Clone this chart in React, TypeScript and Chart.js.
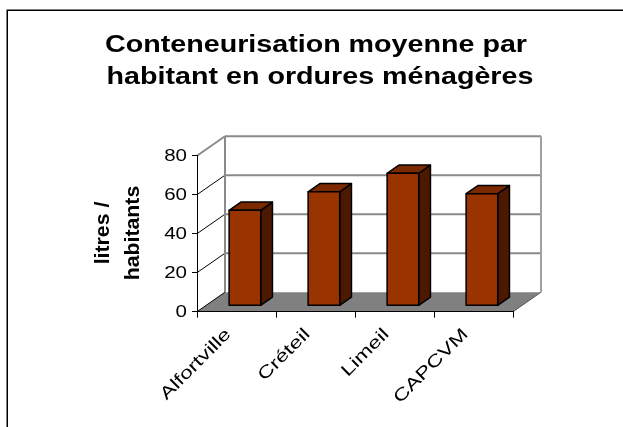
import React, { useEffect, useRef } from 'react';
import { Chart, registerables } from 'chart.js';

Chart.register(...registerables);

const titleLines = ['Conteneurisation moyenne par', 'habitant en ordures ménagères'];
const axisTitleLines = ['litres /', 'habitants'];
const categories = ['Alfortville', 'Créteil', 'Limeil', 'CAPCVM'];
const values = [49, 58.5, 68, 57.5];
const yMin = 0;
const yMax = 80;
const yStep = 20;

const FONT = '"Liberation Sans", Arial, sans-serif';
const STRETCH = 1.26;
const DEPTH_X = 28;
const DEPTH_Y = -19.5;
const BAR_START = 0.3;
const BAR_DEPTH = 0.42;

const COLORS = {
  front: '#993300',
  top: '#7a2900',
  side: '#4c1900',
  floor: '#808080',
  wall: '#8a8a8a',
};

function drawText(
  ctx: CanvasRenderingContext2D,
  text: string,
  x: number,
  y: number,
  rot: number,
  sx: number,
  sy: number,
  align: CanvasTextAlign,
  baseline: CanvasTextBaseline
) {
  ctx.save();
  ctx.translate(x, y);
  ctx.rotate(rot);
  ctx.scale(sx, sy);
  ctx.textAlign = align;
  ctx.textBaseline = baseline;
  ctx.fillText(text, 0, 0);
  ctx.restore();
}

const threeD = {
  id: 'threeD',
  beforeDraw(chart: any) {
    const ctx = chart.ctx as CanvasRenderingContext2D;
    const { left: L, right: R, top: T, bottom: B } = chart.chartArea;
    const ys = chart.scales.y;
    ctx.save();
    ctx.fillStyle = '#fff';
    ctx.fillRect(0, 0, chart.width, chart.height);
    ctx.strokeStyle = '#000';
    ctx.lineWidth = 1.5;
    ctx.strokeRect(7.25, 10.25, 800, 600);

    // floor
    ctx.beginPath();
    ctx.moveTo(L, B);
    ctx.lineTo(R, B);
    ctx.lineTo(R + DEPTH_X, B + DEPTH_Y);
    ctx.lineTo(L + DEPTH_X, B + DEPTH_Y);
    ctx.closePath();
    ctx.fillStyle = COLORS.floor;
    ctx.fill();
    ctx.strokeStyle = '#555';
    ctx.lineWidth = 1;
    ctx.beginPath();
    ctx.moveTo(R, B);
    ctx.lineTo(R + DEPTH_X, B + DEPTH_Y);
    ctx.stroke();

    for (let v = yMin; v <= yMax; v += yStep) {
      const y = ys.getPixelForValue(v);
      if (v > yMin) {
        ctx.strokeStyle = COLORS.wall;
        ctx.lineWidth = 2;
        ctx.beginPath();
        ctx.moveTo(L + DEPTH_X, y + DEPTH_Y);
        ctx.lineTo(R + DEPTH_X, y + DEPTH_Y);
        ctx.stroke();
      }
      ctx.strokeStyle = v === yMax ? COLORS.wall : '#000';
      ctx.lineWidth = v === yMax ? 2 : 1;
      ctx.beginPath();
      ctx.moveTo(L, y);
      ctx.lineTo(L + DEPTH_X, y + DEPTH_Y);
      ctx.stroke();
    }
    ctx.strokeStyle = COLORS.wall;
    ctx.lineWidth = 2;
    ctx.beginPath();
    ctx.moveTo(L + DEPTH_X, T + DEPTH_Y);
    ctx.lineTo(L + DEPTH_X, B + DEPTH_Y);
    ctx.stroke();
    ctx.strokeStyle = '#a0a0a0';
    ctx.beginPath();
    ctx.moveTo(R + DEPTH_X, T + DEPTH_Y);
    ctx.lineTo(R + DEPTH_X, B + DEPTH_Y);
    ctx.stroke();
    ctx.restore();
  },
  afterDatasetsDraw(chart: any) {
    const ctx = chart.ctx as CanvasRenderingContext2D;
    const meta = chart.getDatasetMeta(0);
    const ox = DEPTH_X * BAR_START;
    const oy = DEPTH_Y * BAR_START;
    const dx = DEPTH_X * BAR_DEPTH;
    const dy = DEPTH_Y * BAR_DEPTH;
    ctx.save();
    ctx.lineWidth = 1.5;
    ctx.strokeStyle = '#000';
    ctx.lineJoin = 'round';
    meta.data.forEach((bar: any) => {
      const w = bar.width;
      const x0 = bar.x - w / 2 + ox;
      const x1 = bar.x + w / 2 + ox;
      const yt = bar.y + oy;
      const yb = bar.base + oy;
      ctx.beginPath();
      ctx.moveTo(x1, yt);
      ctx.lineTo(x1 + dx, yt + dy);
      ctx.lineTo(x1 + dx, yb + dy);
      ctx.lineTo(x1, yb);
      ctx.closePath();
      ctx.fillStyle = COLORS.side;
      ctx.fill();
      ctx.stroke();
      ctx.beginPath();
      ctx.moveTo(x0, yt);
      ctx.lineTo(x0 + dx, yt + dy);
      ctx.lineTo(x1 + dx, yt + dy);
      ctx.lineTo(x1, yt);
      ctx.closePath();
      ctx.fillStyle = COLORS.top;
      ctx.fill();
      ctx.stroke();
      ctx.beginPath();
      ctx.rect(x0, yt, x1 - x0, yb - yt);
      ctx.fillStyle = COLORS.front;
      ctx.fill();
      ctx.stroke();
    });
    ctx.restore();
  },
  afterDraw(chart: any) {
    const ctx = chart.ctx as CanvasRenderingContext2D;
    const xs = chart.scales.x;
    const ys = chart.scales.y;
    const B = chart.chartArea.bottom;
    const L = chart.chartArea.left;
    ctx.save();
    ctx.fillStyle = '#000';

    // title
    ctx.font = `bold 23.3px ${FONT}`;
    drawText(ctx, titleLines[0], 316, 51.7, 0, 1.23, 1, 'center', 'alphabetic');
    drawText(ctx, titleLines[1], 320, 84.3, 0, 1.23, 1, 'center', 'alphabetic');

    // y tick labels
    ctx.font = `16.3px ${FONT}`;
    ys.ticks.forEach((t: any) => {
      const y = ys.getPixelForValue(t.value);
      drawText(ctx, String(t.value), L - 10, y + 0.5, 0, STRETCH, 1, 'right', 'middle');
    });

    // axis title (rotated)
    ctx.font = `bold 17px ${FONT}`;
    drawText(ctx, axisTitleLines[0], 109, 233, -Math.PI / 2, 1.25, 1.2, 'center', 'alphabetic');
    drawText(ctx, axisTitleLines[1], 138.5, 233, -Math.PI / 2, 1.25, 1.2, 'center', 'alphabetic');

    // category labels
    ctx.font = `16.3px ${FONT}`;
    categories.forEach((c, i) => {
      const x = xs.getPixelForValue(i);
      drawText(ctx, c, x - 8, B + 20, -Math.PI / 4, 1.4, 1.05, 'right', 'middle');
    });
    ctx.restore();
  },
};

export default function App() {
  const ref = useRef<HTMLCanvasElement | null>(null);
  useEffect(() => {
    if (!ref.current) return;
    const chart = new Chart(ref.current, {
      type: 'bar',
      data: {
        labels: categories,
        datasets: [
          {
            data: values,
            backgroundColor: 'rgba(0,0,0,0)',
            borderWidth: 0,
            categoryPercentage: 1,
            barPercentage: 0.4,
          },
        ],
      },
      options: {
        animation: false,
        responsive: false,
        devicePixelRatio: 1,
        events: [],
        layout: { padding: { left: 0, top: 155.7, right: 110, bottom: 0 } },
        plugins: { legend: { display: false }, title: { display: false }, tooltip: { enabled: false } },
        scales: {
          x: {
            type: 'category',
            offset: true,
            grid: { display: true, drawOnChartArea: false, drawTicks: true, tickLength: 6, color: '#000', offset: true },
            border: { display: true, color: '#000', width: 1 },
            ticks: { display: false },
            afterFit: (s: any) => { s.height = 115.3; },
          },
          y: {
            min: yMin,
            max: yMax,
            ticks: { stepSize: yStep, display: false },
            grid: { display: true, drawOnChartArea: false, drawTicks: true, tickLength: 5, color: '#000' },
            border: { display: true, color: '#000', width: 1 },
            afterFit: (s: any) => { s.width = 197; },
          },
        },
      },
      plugins: [threeD],
    });
    return () => chart.destroy();
  }, []);
  return (
    <div style={{ position: 'absolute', left: 0, top: 0, width: 623, height: 427, overflow: 'hidden', background: '#fff' }}>
      <canvas ref={ref} width={623} height={427} style={{ display: 'block' }} />
    </div>
  );
}
